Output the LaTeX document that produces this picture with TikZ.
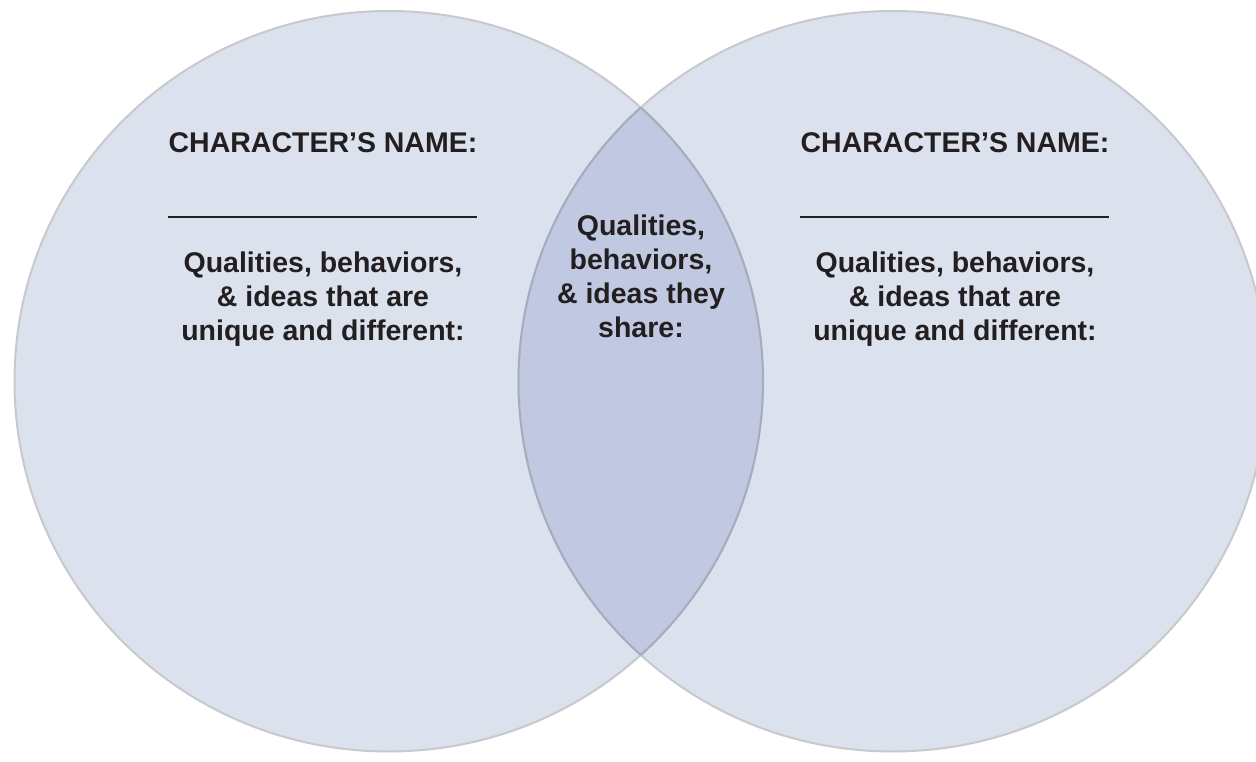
\documentclass[tikz,border=0pt]{standalone}
\usepackage{fontspec}
\setmainfont{Liberation Sans}
\usetikzlibrary{shapes.geometric}
\definecolor{circfill}{RGB}{220,225,238}
\definecolor{overfill}{RGB}{193,201,226}
\definecolor{edgegray}{RGB}{200,201,205}
\definecolor{edgedark}{RGB}{166,172,190}
\definecolor{ink}{RGB}{35,31,32}
\begin{document}
\begin{tikzpicture}[x=1pt,y=-1pt,
  txt/.style={font=\fontsize{28.5}{34}\selectfont\bfseries, text=ink, inner sep=0pt, align=center},
  rulebar/.style={inner sep=0pt, fill=ink, minimum width=309pt, minimum height=1.4pt},
  venn/.style={x radius=374.25pt, y radius=370.25pt}]
\useasboundingbox (0,0) rectangle (1256,762);
\clip (0,0) rectangle (1256,762);
\fill[white] (0,0) rectangle (1256,762);
\coordinate (lc) at (388.75,381.25);
\coordinate (rc) at (892.75,381.25);
% circle fills
\fill[circfill] (lc) ellipse [venn];
\fill[circfill] (rc) ellipse [venn];
\begin{scope}
  \clip (lc) ellipse [venn];
  \fill[overfill] (rc) ellipse [venn];
\end{scope}
% outlines
\draw[edgegray, line width=2pt] (lc) ellipse [venn];
\draw[edgegray, line width=2pt] (rc) ellipse [venn];
\begin{scope}
  \clip (rc) ellipse [venn];
  \draw[edgedark, line width=2pt] (lc) ellipse [venn];
\end{scope}
\begin{scope}
  \clip (lc) ellipse [venn];
  \draw[edgedark, line width=2pt] (rc) ellipse [venn];
\end{scope}
% texts
\node[txt, anchor=base] (lname) at (323,153) {CHARACTER’S NAME:};
\node[txt, anchor=base] (rname) at (955,153) {CHARACTER’S NAME:};
\node[rulebar] (lline) at (322.5,217) {};
\node[rulebar] (rline) at (954.5,217) {};
\node[txt, anchor=north] (ldesc) at (323,252) {Qualities, behaviors,\\ \& ideas that are\\ unique and different:};
\node[txt, anchor=north] (rdesc) at (955,252) {Qualities, behaviors,\\ \& ideas that are\\ unique and different:};
\node[txt, anchor=north] (share) at (641,215) {Qualities,\\ behaviors,\\ \& ideas they\\ share:};
\end{tikzpicture}
\end{document}
